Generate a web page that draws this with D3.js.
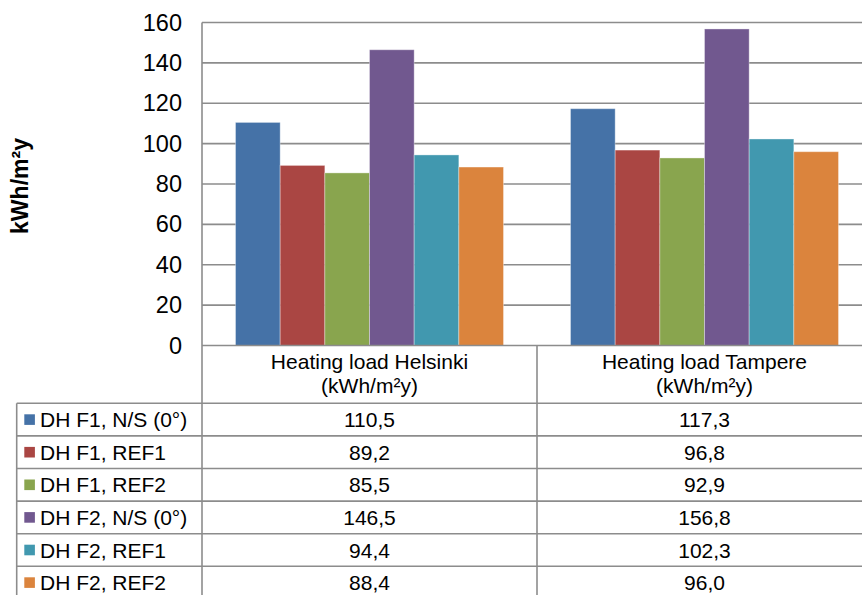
<!DOCTYPE html>
<html>
<head>
<meta charset="utf-8">
<script src="https://cdn.jsdelivr.net/npm/d3@7"></script>
<style>
  html, body { margin: 0; padding: 0; background: #fff; }
  svg { display: block; }
  text { font-family: "Liberation Sans", Arial, sans-serif; fill: #000; }
</style>
</head>
<body>
<svg id="chart" width="862" height="595"></svg>
<script>
// Heating load per building variant, two locations
const categories = ["Heating load Helsinki", "Heating load Tampere"];
const categoryUnit = "(kWh/m²y)";
const seriesNames = [
  "DH F1, N/S (0°)",
  "DH F1, REF1",
  "DH F1, REF2",
  "DH F2, N/S (0°)",
  "DH F2, REF1",
  "DH F2, REF2"
];
const helsinkiValues = [110.5, 89.2, 85.5, 146.5, 94.4, 88.4];
const tampereValues  = [117.3, 96.8, 92.9, 156.8, 102.3, 96.0];
const yTicks = [0, 20, 40, 60, 80, 100, 120, 140, 160];
const seriesColors = ["#4572A7", "#AA4643", "#89A54E", "#71588F", "#4198AF", "#DB843D"];
const yTitle = "kWh/m²y";

const valuesByCategory = [helsinkiValues, tampereValues];

const svg = d3.select("#chart");
const gridColor = "#8c8c8c";

// Layout
const plotLeft = 202, plotRight = 872, plotTop = 22.5, plotBottom = 345.5;
const tableLeft = 16.7;
const headerBottom = 403.3;
const rowHeight = 32.6;

const y = d3.scaleLinear().domain([0, 160]).range([plotBottom, plotTop]);
const x0 = d3.scaleBand().domain(categories).range([plotLeft, plotRight]).padding(0);
const bw = x0.bandwidth();
const x1 = d3.scaleBand().domain(seriesNames).range([bw * 0.1, bw * 0.9]).padding(0);

const locale = d3.formatLocale({ decimal: ",", thousands: " ", grouping: [3], currency: ["", "€"] });
const fmt = locale.format(".1f");

// Gridlines
svg.append("g")
  .selectAll("line")
  .data(yTicks.filter(t => t > 0))
  .join("line")
  .attr("x1", plotLeft).attr("x2", plotRight)
  .attr("y1", d => y(d)).attr("y2", d => y(d))
  .attr("stroke", gridColor).attr("stroke-width", 1.6);

// Y axis with labels
const yAxis = d3.axisLeft(y).tickValues(yTicks).tickSize(0).tickPadding(20).tickFormat(d3.format("d"));
const yg = svg.append("g").attr("transform", `translate(${plotLeft},0)`).call(yAxis);
yg.select(".domain").remove();
yg.selectAll("text")
  .attr("font-size", "23.5px")
  .attr("font-family", "'Liberation Sans', Arial, sans-serif")
  .attr("fill", "#000");

// Bars
const groups = svg.append("g")
  .selectAll("g")
  .data(categories.map((c, i) => ({ cat: c, vals: valuesByCategory[i] })))
  .join("g")
  .attr("transform", d => `translate(${x0(d.cat)},0)`);

groups.selectAll("rect")
  .data(d => d.vals.map((v, j) => ({ name: seriesNames[j], value: v, color: seriesColors[j] })))
  .join("rect")
  .attr("x", d => x1(d.name))
  .attr("width", x1.bandwidth())
  .attr("y", d => y(d.value))
  .attr("height", d => y(0) - y(d.value))
  .attr("fill", d => d.color)
  .attr("stroke", "rgba(255,255,255,0.35)")
  .attr("stroke-width", 1);

// Axis line
svg.append("line")
  .attr("x1", plotLeft).attr("x2", plotLeft)
  .attr("y1", plotTop).attr("y2", 600)
  .attr("stroke", gridColor).attr("stroke-width", 1.6);

// Data table
const table = svg.append("g");
const nRows = seriesNames.length;
const rowY = i => headerBottom + i * rowHeight;

// Horizontal lines
table.append("line")
  .attr("x1", plotLeft).attr("x2", plotRight)
  .attr("y1", plotBottom).attr("y2", plotBottom)
  .attr("stroke", gridColor).attr("stroke-width", 1.6);
table.selectAll("line.row")
  .data(d3.range(nRows + 1))
  .join("line")
  .attr("class", "row")
  .attr("x1", tableLeft).attr("x2", plotRight)
  .attr("y1", i => rowY(i)).attr("y2", i => rowY(i))
  .attr("stroke", gridColor).attr("stroke-width", 1.6);

// Vertical lines
table.append("line")
  .attr("x1", tableLeft).attr("x2", tableLeft)
  .attr("y1", headerBottom).attr("y2", 600)
  .attr("stroke", gridColor).attr("stroke-width", 1.6);
table.selectAll("line.col")
  .data(categories)
  .join("line")
  .attr("class", "col")
  .attr("x1", d => x0(d) + bw).attr("x2", d => x0(d) + bw)
  .attr("y1", plotBottom).attr("y2", 600)
  .attr("stroke", gridColor).attr("stroke-width", 1.6);

// Column headers
const headers = table.selectAll("text.header")
  .data(categories)
  .join("text")
  .attr("class", "header")
  .attr("text-anchor", "middle")
  .attr("font-size", "21px");
headers.append("tspan")
  .attr("x", d => x0(d) + bw / 2).attr("y", 368.5)
  .text(d => d);
headers.append("tspan")
  .attr("x", d => x0(d) + bw / 2).attr("y", 392.5)
  .text(categoryUnit);

// Row legends
const legendRows = table.selectAll("g.legend")
  .data(seriesNames)
  .join("g")
  .attr("class", "legend")
  .attr("transform", (d, i) => `translate(0,${rowY(i) + rowHeight / 2})`);
legendRows.append("rect")
  .attr("x", 24.3).attr("y", -5.3)
  .attr("width", 10.6).attr("height", 10.6)
  .attr("fill", (d, i) => seriesColors[i]);
legendRows.append("text")
  .attr("x", 40).attr("y", 7.6)
  .attr("font-size", "21px")
  .text(d => d);

// Values in the table
categories.forEach((c, ci) => {
  table.append("g")
    .selectAll("text")
    .data(valuesByCategory[ci])
    .join("text")
    .attr("x", x0(c) + bw / 2)
    .attr("y", (d, i) => rowY(i) + rowHeight / 2 + 7.6)
    .attr("text-anchor", "middle")
    .attr("font-size", "21px")
    .text(d => fmt(d));
});

// Y axis title
svg.append("text")
  .attr("transform", "translate(28,186) rotate(-90)")
  .attr("text-anchor", "middle")
  .attr("font-size", "23px")
  .attr("font-weight", "bold")
  .text(yTitle);
</script>
</body>
</html>
